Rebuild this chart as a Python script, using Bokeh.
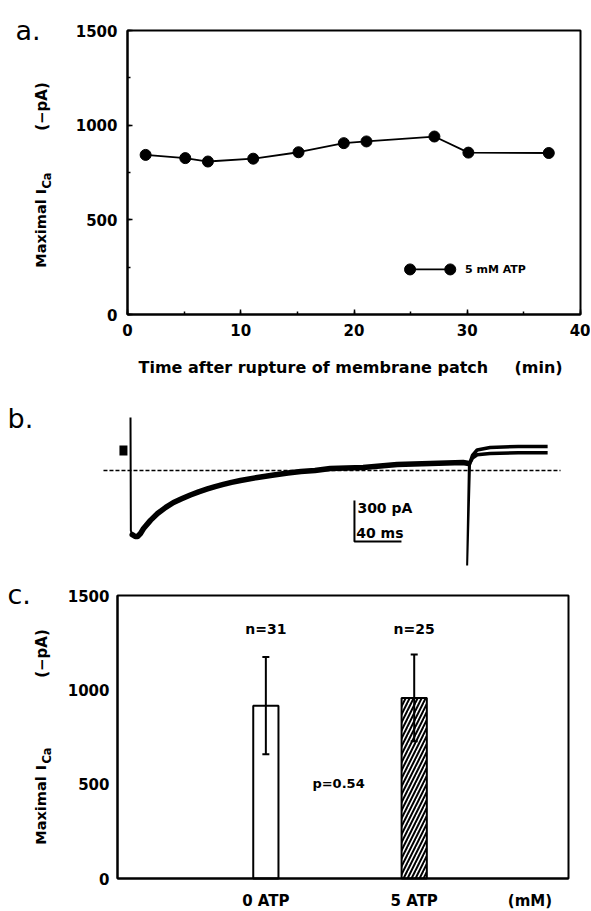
import math
from bokeh.plotting import figure
from bokeh.models import (SingleIntervalTicker, FixedTicker, Range1d, LinearAxis,
                          Whisker, ColumnDataSource, TeeHead, BoxAnnotation)
from bokeh.layouts import column
from bokeh.embed import file_html
from bokeh.resources import INLINE
from bokeh.core.properties import value

FONT = "DejaVu Sans"
INK = "#000000"

# ---------------- data: panel a (maximal ICa vs time) ----------------
time_min = [1.6, 5.1, 7.1, 11.1, 15.1, 19.1, 21.1, 27.1, 30.1, 37.2]
ica_pA = [843, 826, 808, 823, 857, 905, 914, 940, 855, 853]
series_label = "5 mM ATP"
a_x_title = ["Time after rupture of membrane patch", "(min)"]
a_x_lim = (0, 40)
ica_lim = (0, 1500)

# ---------------- data: panel b (current trace, ms / pA) ----------------
hold_t = [-9.4, -2.6]
hold_i = [146, 146]
spike_t = [0.0, 0.3, 1.5]
spike_i = [388, -440, -470]
trace_t = [1.5, 4, 6, 8.5, 11.1, 17, 23, 30, 36.6, 44, 51, 58, 65.5, 72, 79, 86,
           93.6, 108, 122, 134, 145, 157, 170, 198, 227, 255, 283, 288]
trace_i = [-470, -483, -483, -461, -425, -365, -315, -270, -234, -205, -179, -156,
           -135, -118, -102, -87, -73, -51, -33, -18, -7, 0, 15, 22, 44, 51, 59, 51]
tail_t = [288, 286.5, 289]
tail_i = [51, -695, 58]
post_t = [289, 291, 295, 306, 330, 355]
post_upper_i = [58, 110, 150, 168, 176, 176]
post_lower_i = [58, 90, 115, 125, 130, 130]
zero_t = [-23, 366]
zero_i = [0, 0]
scale_pA = 300
scale_ms = 40
scale_origin_t = 190.6
scale_origin_i = -520

# ---------------- data: panel c (bar chart) ----------------
conditions = ["0 ATP", "5 ATP"]
cond_x = [1, 2]
mean_ica = [916, 957]
sd_ica = [258, 230]
n_labels = ["n=31", "n=25"]
p_label = "p=0.54"
unit_label = "(mM)"
unit_x = 2.78
c_x_lim = (0, 3.04)
y_ticks = [0, 500, 1000, 1500]

# ---------------- layout (page pixels) ----------------
W = 590
A_TOP, A_H = 0, 382
B_TOP, B_H = 382, 185
C_TOP, C_H = 567, 343
A_BOX = (127, 580, 30, 314)   # left, right, top, bottom
C_BOX = (117, 568, 595, 878)


def frame_map(box, xlim, ylim):
    l, r, t, b = box
    kx = (xlim[1] - xlim[0]) / (r - l)
    ky = (ylim[1] - ylim[0]) / (b - t)
    fx = lambda px: xlim[0] + (px - l) * kx
    fy = lambda py: ylim[0] + (b - py) * ky
    return fx, fy


def base_fig(fx, fy, top, h):
    p = figure(width=W, height=h,
               x_range=Range1d(fx(0), fx(W)), y_range=Range1d(fy(top + h), fy(top)),
               x_axis_type=None, y_axis_type=None, output_backend="svg",
               toolbar_location=None, title=None, min_border=0,
               outline_line_color=None, background_fill_color="white",
               border_fill_color="white")
    p.grid.visible = False
    return p


def style_axis(ax):
    ax.axis_line_width = 2
    ax.axis_line_color = INK
    ax.major_label_text_font = FONT
    ax.major_label_text_font_style = "bold"
    ax.major_label_text_font_size = "15px"
    ax.major_label_text_color = INK


def frame_box(p, xlim, ylim):
    p.add_layout(BoxAnnotation(left=xlim[0], right=xlim[1], bottom=ylim[0],
                               top=ylim[1], fill_color=None, fill_alpha=0,
                               line_color=INK, line_alpha=1.0, line_width=2))


def txt(p, xs, ys, texts, size, align="center", baseline="middle", angle=0.0,
        bold=True):
    p.text(x=xs, y=ys, text=texts, text_font=value(FONT),
           text_font_style="bold" if bold else "normal", text_font_size=size,
           text_align=align, text_baseline=baseline, angle=angle, text_color=INK)


def ytitle(p, fx, fy, y_max, y_i, y_ca, y_pa):
    rot = math.pi / 2
    txt(p, [fx(40)], [fy(y_max)], ["Maximal"], "14.5px", angle=rot)
    txt(p, [fx(40)], [fy(y_i)], ["I"], "14.5px", angle=rot)
    txt(p, [fx(46)], [fy(y_ca)], ["Ca"], "11.5px", angle=rot)
    txt(p, [fx(41)], [fy(y_pa)], ["(\u2212pA)"], "15px", angle=rot)


# ================= panel a =================
fax, fay = frame_map(A_BOX, a_x_lim, ica_lim)
pa = base_fig(fax, fay, A_TOP, A_H)
xa = LinearAxis(fixed_location=ica_lim[0], bounds=a_x_lim,
                ticker=SingleIntervalTicker(interval=10, num_minor_ticks=2))
ya = LinearAxis(fixed_location=a_x_lim[0], bounds=ica_lim,
                ticker=SingleIntervalTicker(interval=500, num_minor_ticks=2))
for ax in (xa, ya):
    style_axis(ax)
    ax.major_tick_in = 5
    ax.major_tick_out = 0
    ax.minor_tick_in = 3
    ax.minor_tick_out = 0
    ax.major_tick_line_width = 1.5
    ax.minor_tick_line_width = 1.5
    ax.major_tick_line_color = INK
    ax.minor_tick_line_color = INK
xa.major_label_standoff = 9
ya.major_label_standoff = 10
pa.add_layout(xa, "below")
pa.add_layout(ya, "left")
frame_box(pa, a_x_lim, ica_lim)

pa.line(time_min, ica_pA, line_color=INK, line_width=1.8)
pa.scatter(time_min, ica_pA, size=11, fill_color=INK, line_color=INK)

# legend key (circle-line-circle)
LEG_X = [24.95, 28.5]
LEG_Y = 238
pa.line(LEG_X, [LEG_Y, LEG_Y], line_color=INK, line_width=1.8)
pa.scatter(LEG_X, [LEG_Y, LEG_Y], size=11, fill_color=INK, line_color=INK)
txt(pa, [29.8], [LEG_Y], [series_label], "11px", align="left")

txt(pa, [fax(138), fax(514)], [fay(367), fay(367)], a_x_title, "16px", align="left")
txt(pa, [fax(15)], [fay(30)], ["a."], "27px", align="left", baseline="alphabetic",
    bold=False)
ytitle(pa, fax, fay, 233, 191, 180, 106)

# ================= panel b =================
PX_T0, PX_PER_MS, PY_I0, PA_PER_PX = 130, 1.175, 470, 7.32
fbx = lambda px: (px - PX_T0) / PX_PER_MS
fby = lambda py: (PY_I0 - py) * PA_PER_PX
pb = base_fig(fbx, fby, B_TOP, B_H)
pb.line(zero_t, zero_i, line_color=INK, line_width=1.5, line_dash="4 2")
pb.line(hold_t, hold_i, line_color=INK, line_width=10, line_cap="butt")
pb.line(spike_t, spike_i, line_color=INK, line_width=2)
pb.line(trace_t, trace_i, line_color=INK, line_width=5.5, line_join="round",
        line_cap="round")
pb.line(tail_t, tail_i, line_color=INK, line_width=2)
pb.line(post_t, post_upper_i, line_color=INK, line_width=3.5)
pb.line(post_t, post_lower_i, line_color=INK, line_width=3.5)
sb_t = [scale_origin_t, scale_origin_t, scale_origin_t + scale_ms]
sb_i = [scale_origin_i + scale_pA, scale_origin_i, scale_origin_i]
pb.line(sb_t, sb_i, line_color=INK, line_width=2)
txt(pb, [scale_origin_t + 2.5, scale_origin_t + 1.5],
    [scale_origin_i + 249, scale_origin_i + 59],
    [f"{scale_pA} pA", f"{scale_ms} ms"], "14px", align="left")
txt(pb, [fbx(7)], [fby(418)], ["b."], "27px", align="left", baseline="alphabetic",
    bold=False)

# ================= panel c =================
fcx, fcy = frame_map(C_BOX, c_x_lim, ica_lim)
pc = base_fig(fcx, fcy, C_TOP, C_H)
xc = LinearAxis(fixed_location=ica_lim[0], bounds=c_x_lim,
                ticker=FixedTicker(ticks=cond_x + [unit_x]))
yc = LinearAxis(fixed_location=c_x_lim[0], bounds=ica_lim,
                ticker=FixedTicker(ticks=y_ticks))
overrides = {x: lab for x, lab in zip(cond_x, conditions)}
overrides[unit_x] = unit_label
xc.major_label_overrides = overrides
for ax in (xc, yc):
    style_axis(ax)
    ax.major_tick_line_color = None
    ax.minor_tick_line_color = None
    ax.major_tick_in = 0
    ax.major_tick_out = 0
    ax.minor_tick_in = 0
    ax.minor_tick_out = 0
xc.major_label_standoff = 13
yc.major_label_standoff = 8
pc.add_layout(xc, "below")
pc.add_layout(yc, "left")
frame_box(pc, c_x_lim, ica_lim)

src = ColumnDataSource(dict(x=cond_x, top=mean_ica,
                            upper=[m + s for m, s in zip(mean_ica, sd_ica)],
                            lower=[m - s for m, s in zip(mean_ica, sd_ica)],
                            hatch=[" ", "right_diagonal_line"]))
pc.vbar(x="x", top="top", width=0.17, source=src, fill_color="white",
        line_color=INK, line_width=2, hatch_pattern="hatch", hatch_color=INK,
        hatch_scale=8, hatch_weight=2)
wh = Whisker(base="x", upper="upper", lower="lower", source=src, line_width=2,
             line_color=INK, level="annotation",
             upper_head=TeeHead(size=7, line_width=2, line_color=INK),
             lower_head=TeeHead(size=7, line_width=2, line_color=INK))
pc.add_layout(wh)
txt(pc, cond_x, [1321, 1321], n_labels, "14px")
txt(pc, [1.49], [505], [p_label], "13px")
txt(pc, [fcx(7)], [fcy(594)], ["c."], "27px", align="left", baseline="alphabetic",
    bold=False)
ytitle(pc, fcx, fcy, 810, 767, 755, 653)

layout = column(pa, pb, pc, spacing=0)
open("out.html", "w").write(file_html(layout, INLINE))
